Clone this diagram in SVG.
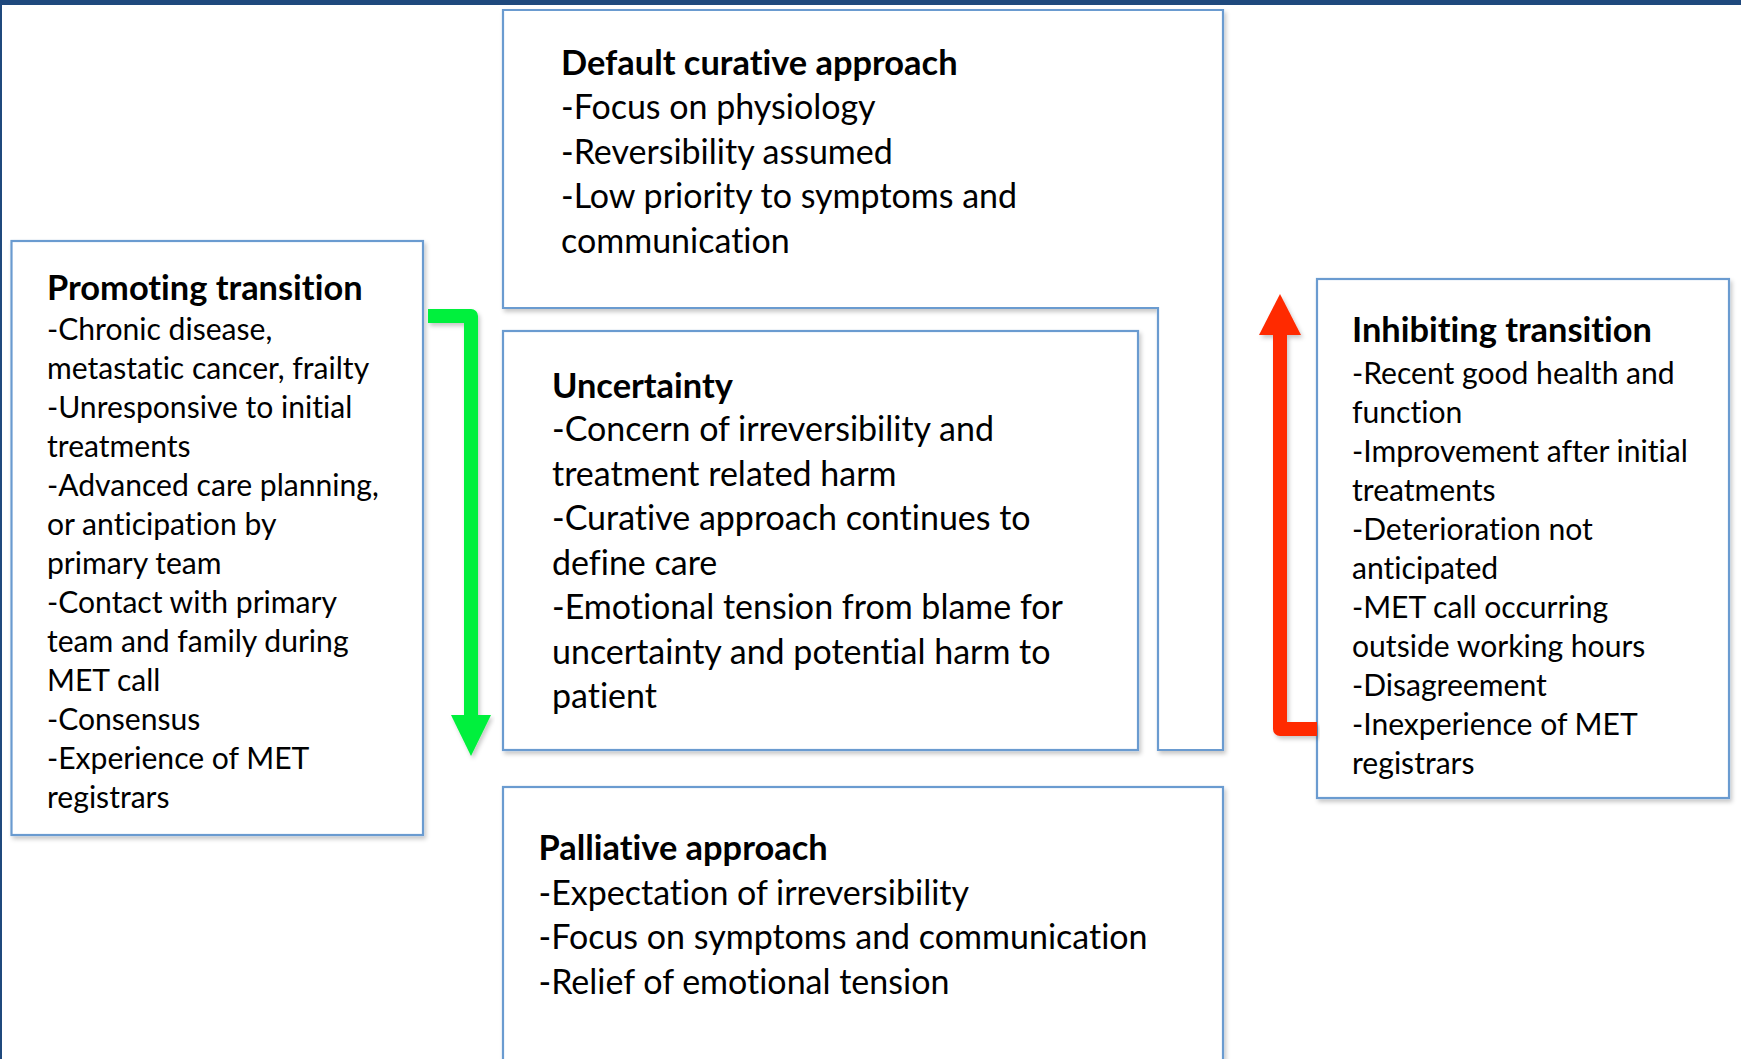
<svg xmlns="http://www.w3.org/2000/svg" width="1741" height="1059" viewBox="0 0 1741 1059">
<defs>
<filter id="sh" x="-5%" y="-5%" width="110%" height="110%">
<feDropShadow dx="2" dy="3" stdDeviation="2" flood-color="#000" flood-opacity="0.22"/>
</filter>
<style>
.box{fill:#fff;stroke:#6b9bd0;stroke-width:2.2}
.t{font-family:Lato,"Open Sans",sans-serif;fill:#000;font-variant-ligatures:none;font-feature-settings:"liga" 0,"dlig" 0,"clig" 0,"calt" 0,"hlig" 0}
.h{font-weight:bold;font-size:34.4px}
.c{font-size:34px}
.s{font-size:30.1px}
</style>
</defs>
<rect x="0" y="0" width="1741" height="1059" fill="#fff"/>
<rect x="0" y="0" width="1741" height="5" fill="#1f497d"/>
<rect x="0" y="0" width="2" height="1059" fill="#1f497d"/>

<g id="default-curative">
<path class="box" filter="url(#sh)" d="M503,10 H1223 V750 H1158 V308 H503 Z"/>
<text class="t h" x="561" y="75">Default curative approach</text>
<text class="t c" x="561" y="119">-Focus on physiology</text>
<text class="t c" x="561" y="164">-Reversibility assumed</text>
<text class="t c" x="561" y="208">-Low priority to symptoms and</text>
<text class="t c" x="561" y="253">communication</text>
</g>

<g id="uncertainty">
<rect class="box" filter="url(#sh)" x="503" y="331" width="635" height="419"/>
<text class="t h" x="552" y="397.5">Uncertainty</text>
<text class="t c" x="552" y="441">-Concern of irreversibility and</text>
<text class="t c" x="552" y="485.5">treatment related harm</text>
<text class="t c" x="552" y="530">-Curative approach continues to</text>
<text class="t c" x="552" y="574.5">define care</text>
<text class="t c" x="552" y="619">-Emotional tension from blame for</text>
<text class="t c" x="552" y="663.5">uncertainty and potential harm to</text>
<text class="t c" x="552" y="708">patient</text>
</g>

<g id="palliative">
<rect class="box" filter="url(#sh)" x="503" y="787" width="720" height="300"/>
<text class="t h" x="538.5" y="860">Palliative approach</text>
<text class="t c" x="538.5" y="904.5">-Expectation of irreversibility</text>
<text class="t c" x="538.5" y="949">-Focus on symptoms and communication</text>
<text class="t c" x="538.5" y="993.5">-Relief of emotional tension</text>
</g>

<g id="promoting">
<rect class="box" filter="url(#sh)" x="11.5" y="241" width="411.5" height="594"/>
<text class="t h" x="47" y="300">Promoting transition</text>
<text class="t s" x="47" y="340">-Chronic disease,</text>
<text class="t s" x="47" y="379">metastatic cancer, frailty</text>
<text class="t s" x="47" y="418">-Unresponsive to initial</text>
<text class="t s" x="47" y="457">treatments</text>
<text class="t s" x="47" y="496">-Advanced care planning,</text>
<text class="t s" x="47" y="535">or anticipation by</text>
<text class="t s" x="47" y="574">primary team</text>
<text class="t s" x="47" y="613">-Contact with primary</text>
<text class="t s" x="47" y="652">team and family during</text>
<text class="t s" x="47" y="691">MET call</text>
<text class="t s" x="47" y="730">-Consensus</text>
<text class="t s" x="47" y="769">-Experience of MET</text>
<text class="t s" x="47" y="808">registrars</text>
</g>

<g id="inhibiting">
<rect class="box" filter="url(#sh)" x="1317" y="279" width="412" height="519"/>
<text class="t h" x="1352" y="342">Inhibiting transition</text>
<text class="t s" x="1352" y="384">-Recent good health and</text>
<text class="t s" x="1352" y="423">function</text>
<text class="t s" x="1352" y="462">-Improvement after initial</text>
<text class="t s" x="1352" y="501">treatments</text>
<text class="t s" x="1352" y="540">-Deterioration not</text>
<text class="t s" x="1352" y="579">anticipated</text>
<text class="t s" x="1352" y="618">-MET call occurring</text>
<text class="t s" x="1352" y="657">outside working hours</text>
<text class="t s" x="1352" y="696">-Disagreement</text>
<text class="t s" x="1352" y="735">-Inexperience of MET</text>
<text class="t s" x="1352" y="774">registrars</text>
</g>

<g id="connectors">
<g filter="url(#sh)">
<path d="M428,316 H471 V716" fill="none" stroke="#00f03c" stroke-width="14" stroke-linejoin="round"/>
<polygon points="451,715 491,715 471,756" fill="#00f03c"/>
</g>
<g filter="url(#sh)">
<path d="M1317,729 H1280 V334" fill="none" stroke="#ff2a00" stroke-width="14" stroke-linejoin="round"/>
<polygon points="1259,335 1301,335 1280,294" fill="#ff2a00"/>
</g>
</g>
</svg>
